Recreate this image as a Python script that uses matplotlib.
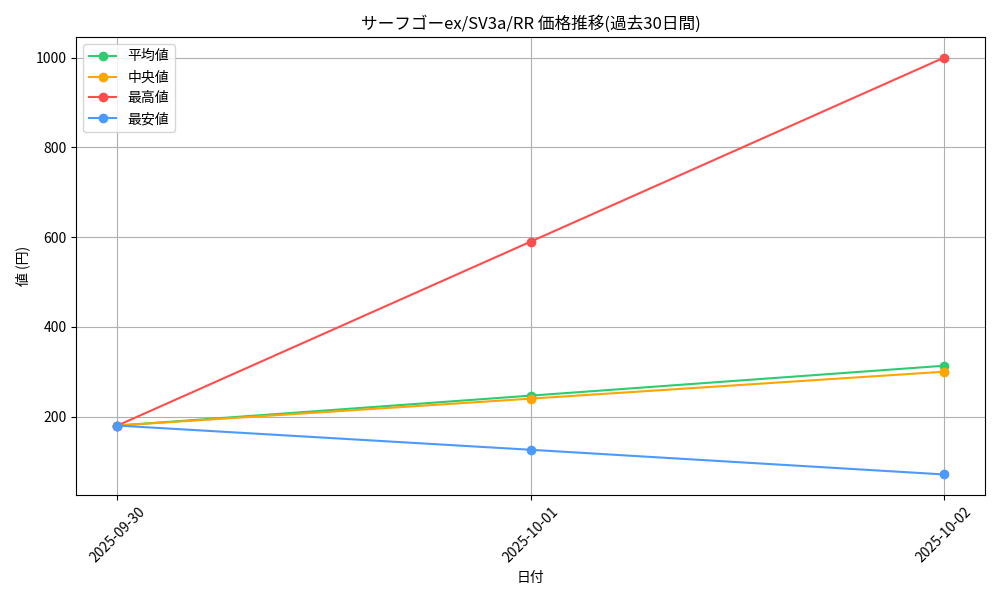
import matplotlib
matplotlib.use('Agg')
import matplotlib.pyplot as plt

plt.rcParams['font.family'] = ['Noto Sans CJK JP', 'DejaVu Sans']

dates = ['2025-09-30', '2025-10-01', '2025-10-02']
avg_price = [180, 246.7, 313.3]
median_price = [180, 240, 300]
max_price = [180, 590, 1000]
min_price = [180, 126, 71]

plt.figure(figsize=(10, 6))
plt.plot(dates, avg_price, marker='o', color='#2ecc71', label='平均値')
plt.plot(dates, median_price, marker='o', color='#ffa500', label='中央値')
plt.plot(dates, max_price, marker='o', color='#ff4c4c', label='最高値')
plt.plot(dates, min_price, marker='o', color='#4c9aff', label='最安値')

plt.title('サーフゴーex/SV3a/RR 価格推移(過去30日間)')
plt.xlabel('日付')
plt.ylabel('値 (円)')
plt.xticks(rotation=45)
plt.grid(True)
plt.legend(loc='upper left')
plt.tight_layout()
plt.savefig('out.png', dpi=100)
